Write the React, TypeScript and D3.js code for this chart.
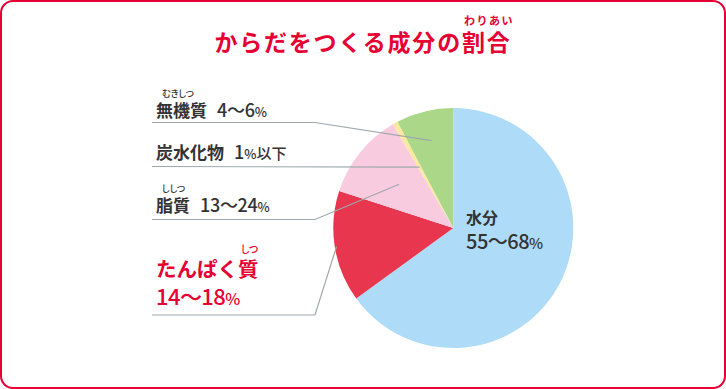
import React from 'react';
import * as d3 from 'd3';

const categories = ['水分', 'たんぱく質', '脂質', '炭水化物', '無機質'];
const values = [65, 15, 11.6, 0.7, 7.7];
const ranges = ['55〜68', '14〜18', '13〜24', '1', '4〜6'];
const rubies = ['', 'しつ', 'ししつ', '', 'むきしつ'];
const colors = ['#aedcf8', '#e8364e', '#f9cbdf', '#fde8a0', '#abd888'];
const title = 'からだをつくる成分の割合';
const titleRuby = 'わりあい';

const W = 726;
const H = 389;
const RED = '#e60033';
const DARK = '#333333';
const LINE = '#9ea8ab';
const FONT = '"Noto Sans CJK JP", "Noto Sans", sans-serif';
const palt = { fontFeatureSettings: '"palt"' };

export default function App() {
  const cx = 453.3;
  const cy = 228;
  const R = 120;
  const pie = d3.pie<number>().sort(null).value((d) => d)(values);
  const arc = d3.arc<d3.PieArcDatum<number>>().innerRadius(0).outerRadius(R);

  const pt = (i: number, f: number) => {
    const a = (pie[i].startAngle + pie[i].endAngle) / 2;
    return [cx + Math.sin(a) * R * f, cy - Math.cos(a) * R * f];
  };

  // leader lines: [index, y of horizontal, elbow x (null = straight), radius factor]
  const leaders: [number, number, number | null, number][] = [
    [4, 122.5, 315, 0.75],
    [3, 166.5, null, 0.58],
    [2, 219.5, 315, 0.58],
    [1, 315, 315, 0.985],
  ];

  return (
    <svg width={W} height={H} style={{ position: 'absolute', left: 0, top: 0 }} fontFamily={FONT}>
      <rect x={1} y={1} width={W - 2} height={H - 2} rx={12} ry={12} fill="#fff" stroke={RED} strokeWidth={2} />
      <text x={363} y={50.5} textAnchor="middle" fill={RED} fontSize={23} fontWeight={700} letterSpacing={1.8}>
        {title}
      </text>
      <text x={489} y={25} textAnchor="middle" fill={RED} fontSize={11} fontWeight={700} letterSpacing={1.5}>
        {titleRuby}
      </text>

      <g transform={`translate(${cx},${cy})`}>
        {pie.map((d, i) => (
          <path key={i} d={arc(d) || ''} fill={colors[i]} />
        ))}
      </g>

      {leaders.map(([i, y, ex, f]) => {
        const [px, py] = pt(i, f);
        const pts = ex === null ? [[152, y], [px, py]] : [[152, y], [ex, y], [px, py]];
        return (
          <polyline key={i} points={pts.map((p) => p.join(',')).join(' ')} fill="none" stroke={LINE} strokeWidth={1.2} />
        );
      })}

      {/* minerals */}
      <text x={156} y={117} fill={DARK} fontSize={17} fontWeight={700}>
        {categories[4]}
        <tspan dx={10} fontWeight={500} fontSize={18} letterSpacing={-0.3}>{ranges[4]}</tspan>
        <tspan fontSize={13} fontWeight={500}>%</tspan>
      </text>
      <text x={162} y={97} fill={DARK} fontSize={9} fontWeight={500} style={palt}>{rubies[4]}</text>

      {/* carbs */}
      <text x={156} y={159} fill={DARK} fontSize={17} fontWeight={700}>
        {categories[3]}
        <tspan dx={10} fontWeight={500} fontSize={18}>{ranges[3]}</tspan>
        <tspan fontSize={13} fontWeight={500}>%</tspan>
        <tspan fontSize={15} fontWeight={500}>以下</tspan>
      </text>

      {/* fat */}
      <text x={156} y={212} fill={DARK} fontSize={17} fontWeight={700}>
        {categories[2]}
        <tspan dx={10} fontWeight={500} fontSize={18} letterSpacing={-0.3}>{ranges[2]}</tspan>
        <tspan fontSize={13} fontWeight={500}>%</tspan>
      </text>
      <text x={162} y={192} fill={DARK} fontSize={9} fontWeight={500} style={palt}>{rubies[2]}</text>

      {/* protein */}
      <text x={156} y={277} fill={RED} fontSize={20.5} fontWeight={700}>{categories[1]}</text>
      <text x={241} y={253} fill={RED} fontSize={10} fontWeight={500} style={palt}>{rubies[1]}</text>
      <text x={156} y={305} fill={RED} fontSize={22} fontWeight={500} letterSpacing={-0.6}>
        {ranges[1]}
        <tspan fontSize={16}>%</tspan>
      </text>

      {/* water */}
      <text x={466} y={223.5} fill={DARK} fontSize={16} fontWeight={700}>{categories[0]}</text>
      <text x={466} y={249} fill={DARK} fontSize={20} fontWeight={500} letterSpacing={-0.5}>
        {ranges[0]}
        <tspan fontSize={15}>%</tspan>
      </text>
    </svg>
  );
}
